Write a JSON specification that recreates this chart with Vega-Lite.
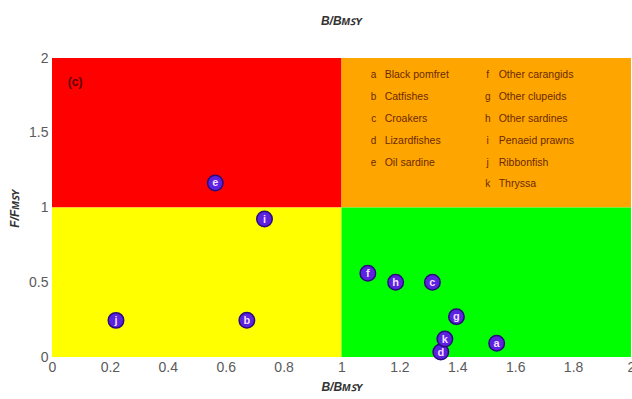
{
  "$schema": "https://vega.github.io/schema/vega-lite/v6.json",
  "width": 579,
  "height": 299,
  "autosize": {"type": "none"},
  "padding": {"left": 52, "top": 58, "right": 1, "bottom": 42},
  "background": "white",
  "config": {
    "view": {"stroke": null},
    "font": "Liberation Sans"
  },
  "title": {
    "text": "B/Bᴍꜱʏ",
    "fontSize": 12,
    "fontWeight": "bold",
    "fontStyle": "italic",
    "color": "#333",
    "anchor": "middle",
    "offset": 23
  },
  "datasets": {
    "zones": [
      {"x0": 0, "x1": 1, "y0": 1, "y1": 2, "zone": "overfished-overfishing"},
      {"x0": 1, "x1": 2, "y0": 1, "y1": 2, "zone": "overfishing"},
      {"x0": 0, "x1": 1, "y0": 0, "y1": 1, "zone": "overfished"},
      {"x0": 1, "x1": 2, "y0": 0, "y1": 1, "zone": "healthy"}
    ],
    "stocks": [
      {"code": "a", "name": "Black pomfret", "b": 1.536, "f": 0.092},
      {"code": "b", "name": "Catfishes", "b": 0.673, "f": 0.246},
      {"code": "c", "name": "Croakers", "b": 1.314, "f": 0.5},
      {"code": "d", "name": "Lizardfishes", "b": 1.343, "f": 0.033},
      {"code": "e", "name": "Oil sardine", "b": 0.564, "f": 1.164},
      {"code": "f", "name": "Other carangids", "b": 1.091, "f": 0.56},
      {"code": "g", "name": "Other clupeids", "b": 1.397, "f": 0.27},
      {"code": "h", "name": "Other sardines", "b": 1.187, "f": 0.5},
      {"code": "i", "name": "Penaeid prawns", "b": 0.734, "f": 0.923},
      {"code": "j", "name": "Ribbonfish", "b": 0.221, "f": 0.245},
      {"code": "k", "name": "Thryssa", "b": 1.357, "f": 0.12}
    ],
    "key": [
      {"code": "a", "name": "Black pomfret", "kx": 1.111, "ky": 1.886},
      {"code": "b", "name": "Catfishes", "kx": 1.111, "ky": 1.739},
      {"code": "c", "name": "Croakers", "kx": 1.111, "ky": 1.595},
      {"code": "d", "name": "Lizardfishes", "kx": 1.111, "ky": 1.448},
      {"code": "e", "name": "Oil sardine", "kx": 1.111, "ky": 1.3},
      {"code": "f", "name": "Other carangids", "kx": 1.505, "ky": 1.886},
      {"code": "g", "name": "Other clupeids", "kx": 1.505, "ky": 1.739},
      {"code": "h", "name": "Other sardines", "kx": 1.505, "ky": 1.595},
      {"code": "i", "name": "Penaeid prawns", "kx": 1.505, "ky": 1.448},
      {"code": "j", "name": "Ribbonfish", "kx": 1.505, "ky": 1.3},
      {"code": "k", "name": "Thryssa", "kx": 1.505, "ky": 1.157}
    ],
    "panel": [
      {"label": "(c)", "px": 0.08, "py": 1.84}
    ]
  },
  "layer": [
    {
      "data": {"name": "zones"},
      "mark": {"type": "rect"},
      "encoding": {
        "x": {
          "field": "x0", "type": "quantitative",
          "scale": {"domain": [0, 2], "nice": false},
          "axis": {
            "values": [0, 0.2, 0.4, 0.6, 0.8, 1, 1.2, 1.4, 1.6, 1.8, 2],
            "labelExpr": "datum.value === 0 || datum.value === 1 || datum.value === 2 ? format(datum.value, 'd') : format(datum.value, '.1f')",
            "grid": false,
            "domain": false,
            "ticks": false,
            "labelFontSize": 14,
            "labelColor": "#5a5a5a",
            "labelPadding": 3,
            "labelFlush": false,
            "title": "B/Bᴍꜱʏ",
            "titleFontSize": 12,
            "titleFontWeight": "bold",
            "titleFontStyle": "italic",
            "titleColor": "#333",
            "titlePadding": 7
          }
        },
        "x2": {"field": "x1"},
        "y": {
          "field": "y0", "type": "quantitative",
          "scale": {"domain": [0, 2], "nice": false},
          "axis": {
            "values": [0, 0.5, 1, 1.5, 2],
            "labelExpr": "datum.value % 1 === 0 ? format(datum.value, 'd') : format(datum.value, '.1f')",
            "grid": false,
            "domain": false,
            "ticks": false,
            "labelFontSize": 14,
            "labelColor": "#5a5a5a",
            "labelPadding": 4,
            "labelFlush": false,
            "title": "F/Fᴍꜱʏ",
            "titleFontSize": 12,
            "titleFontWeight": "bold",
            "titleFontStyle": "italic",
            "titleColor": "#333",
            "titleX": -31,
            "titleY": 150
          }
        },
        "y2": {"field": "y1"},
        "color": {
          "field": "zone", "type": "nominal",
          "scale": {
            "domain": ["overfished-overfishing", "overfishing", "overfished", "healthy"],
            "range": ["#ff0000", "#ffa500", "#ffff00", "#00ff00"]
          },
          "legend": null
        }
      }
    },
    {
      "data": {"name": "key"},
      "mark": {"type": "text", "align": "center", "baseline": "middle", "fontSize": 10, "color": "#6a2a00"},
      "encoding": {
        "x": {"field": "kx", "type": "quantitative"},
        "y": {"field": "ky", "type": "quantitative"},
        "text": {"field": "code"}
      }
    },
    {
      "data": {"name": "key"},
      "mark": {"type": "text", "align": "left", "baseline": "middle", "fontSize": 10.5, "dx": 11, "color": "#6a2a00"},
      "encoding": {
        "x": {"field": "kx", "type": "quantitative"},
        "y": {"field": "ky", "type": "quantitative"},
        "text": {"field": "name"}
      }
    },
    {
      "data": {"name": "panel"},
      "mark": {"type": "text", "align": "center", "baseline": "middle", "fontSize": 12, "fontWeight": "bold", "color": "#5a0000"},
      "encoding": {
        "x": {"field": "px", "type": "quantitative"},
        "y": {"field": "py", "type": "quantitative"},
        "text": {"field": "label"}
      }
    },
    {
      "data": {"name": "stocks"},
      "mark": {"type": "point", "shape": "circle", "filled": true, "size": 240, "color": "#5b22e0", "stroke": "#2a0a7a", "strokeWidth": 1.5, "opacity": 1},
      "encoding": {
        "x": {"field": "b", "type": "quantitative"},
        "y": {"field": "f", "type": "quantitative"}
      }
    },
    {
      "data": {"name": "stocks"},
      "mark": {"type": "text", "align": "center", "baseline": "middle", "fontSize": 11, "fontWeight": "bold", "color": "#f4ddff", "dy": 0.5},
      "encoding": {
        "x": {"field": "b", "type": "quantitative"},
        "y": {"field": "f", "type": "quantitative"},
        "text": {"field": "code"}
      }
    }
  ]
}
